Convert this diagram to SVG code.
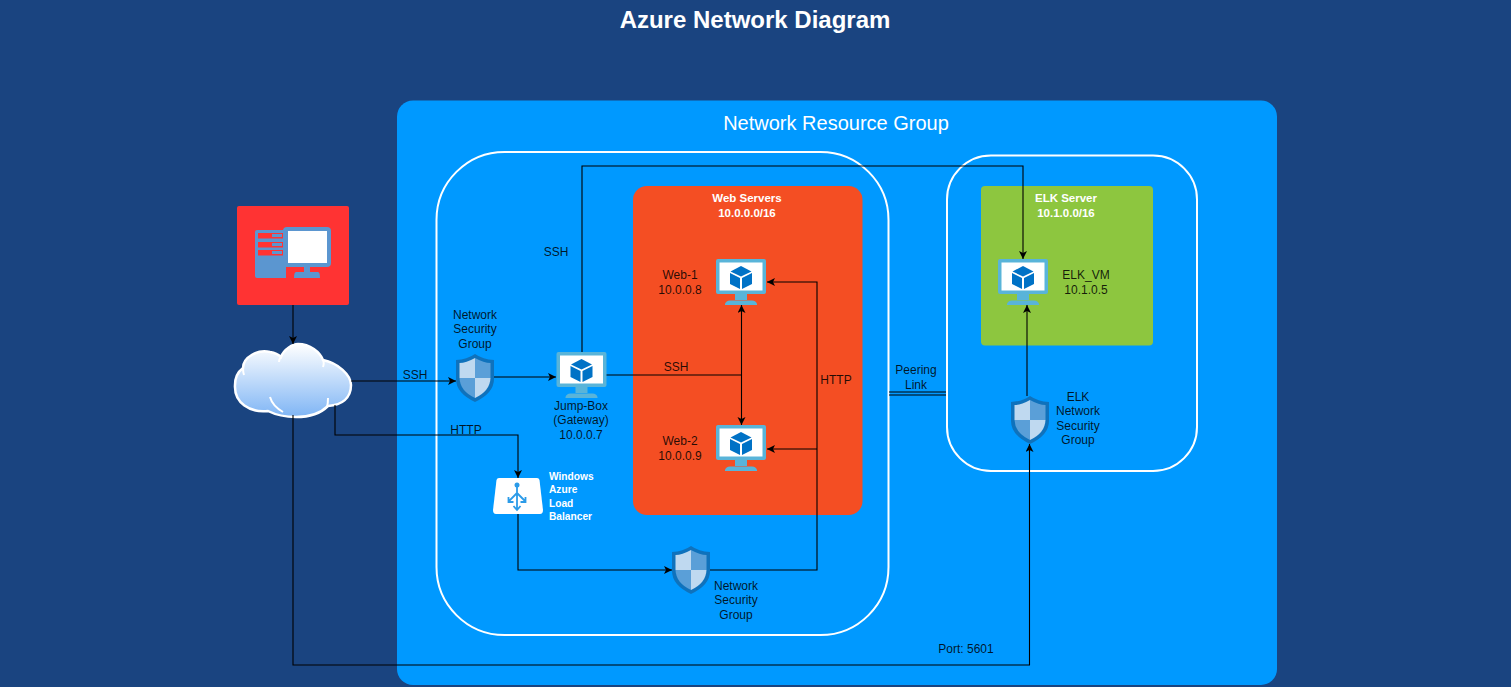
<svg xmlns="http://www.w3.org/2000/svg" width="1511" height="687" viewBox="0 0 1511 687">
<style>
text{font-family:"Liberation Sans",Arial,sans-serif;font-size:12px;fill:#000;fill-opacity:.85;text-anchor:middle}
.w{fill:#fff;fill-opacity:1;font-weight:bold;font-size:11.5px}
.s{font-size:10.2px}
.l{text-anchor:start}
.c{fill:none;stroke:#000;stroke-width:1.100}
.a{marker-end:url(#ah)}
.b{marker-start:url(#ahs);marker-end:url(#ah)}
.o{fill:none;stroke:#fff;stroke-width:2}
</style>
<defs>
<marker id="ah" markerUnits="userSpaceOnUse" markerWidth="10" markerHeight="10" refX="8" refY="4" orient="auto"><path d="M0 0L8 4L0 8L2 4Z" fill="#000"/></marker>
<marker id="ahs" markerUnits="userSpaceOnUse" markerWidth="10" markerHeight="10" refX="8" refY="4" orient="auto-start-reverse"><path d="M0 0L8 4L0 8L2 4Z" fill="#000"/></marker>
<linearGradient id="cg" x1="0" y1="0" x2="0" y2="1"><stop offset="0" stop-color="#fff"/><stop offset="1" stop-color="#7FB5F5"/></linearGradient>
<symbol id="vm" viewBox="0 0 50 47" width="50" height="47" overflow="visible">
<rect x="0" y="0" width="50" height="35" rx="2" fill="#59B4D9"/>
<rect x="3.500" y="3.500" width="43" height="28" fill="#fff"/>
<path d="M19 35H31V41H19Z" fill="#59B4D9"/>
<path d="M9 45Q10 41.500 14 41.500H36Q40 41.500 41 45V46H9Z" fill="#59B4D9"/>
<path d="M25 7L35.500 12.500L25 17.500L14.500 12.500Z" fill="#0072C6"/>
<path d="M14 14L24 19V30L14 25Z" fill="#0072C6"/>
<path d="M36 14L26 19V30L36 25Z" fill="#0072C6"/>
</symbol>
<symbol id="sh" viewBox="0 0 38 48" width="38" height="48" overflow="visible">
<path d="M19 0Q27 5.500 38 6V25Q38 39 19 48Q0 39 0 25V6Q11 5.500 19 0Z" fill="#0F72BC"/>
<path d="M19 4Q10 9 3.500 9V24H19Z" fill="#BFD9F0"/>
<path d="M19 4Q28 9 34.500 9V24H19Z" fill="#5A9FD8"/>
<path d="M3.500 24H19V44Q4 37 3.500 24Z" fill="#5A9FD8"/>
<path d="M34.500 24H19V44Q34 37 34.500 24Z" fill="#BFD9F0"/>
</symbol>
</defs>
<rect width="1511" height="687" fill="#1A4480"/>
<text x="755" y="28" style="font-size:24px;font-weight:bold;fill:#fff;fill-opacity:1">Azure Network Diagram</text>

<g id="resource-group"><rect x="397" y="100.500" width="880" height="584.500" rx="16" fill="#0099FF"/>
<text x="836" y="130" style="font-size:20px;fill:#fff;fill-opacity:1">Network Resource Group</text></g>
<g id="vnet-1"><rect class="o" x="436.500" y="152" width="452" height="483" rx="68"/></g>
<g id="vnet-2"><rect class="o" x="947" y="155.500" width="250" height="315.500" rx="44"/></g>
<g id="web-servers"><rect x="633" y="186" width="229.500" height="329" rx="14" fill="#F44E23"/>
<text class="w" x="747" y="202">Web Servers</text><text class="w" x="747" y="217">10.0.0.0/16</text></g>
<g id="elk-server"><rect x="981" y="186" width="172" height="159.500" rx="4" fill="#8DC63F"/>
<text class="w" x="1066" y="202">ELK Server</text><text class="w" x="1066" y="217">10.1.0.0/16</text></g>

<g id="workstation"><rect x="237" y="206" width="112" height="99" rx="2" fill="#FF3333"/>
<path d="M257 230H286V278H257Q255 278 255 276V232Q255 230 257 230Z" fill="#5B96D0"/>
<rect x="258" y="233" width="26" height="5.500" fill="#FF3333"/><rect x="258" y="242" width="26" height="5.500" fill="#FF3333"/><rect x="258" y="250" width="26" height="5.500" fill="#FF3333"/>
<rect x="272" y="234" width="10" height="3" fill="#5B96D0"/><rect x="272" y="243" width="10" height="3" fill="#5B96D0"/><rect x="272" y="251" width="10" height="3" fill="#5B96D0"/>
<rect x="283" y="227" width="48" height="40" rx="4" fill="#5B96D0"/><rect x="288" y="231" width="39" height="32" fill="#fff"/>
<path d="M304 267H310V272H318Q320 272 320 278H294Q294 272 296 272H304Z" fill="#5B96D0"/></g>

<g id="internet"><path d="M268 411C250 413 234 403 235 385C235 376 239 371 243 368C243 357 258 349 270 352C276 353 280 356 281 357C284 349 293 344 298 344C310 344 320 352 323 360C338 363 351 375 351 385C351 398 342 405 328 406C320 414 308 417 296 417C284 417 274 414 268 411Z" fill="url(#cg)" stroke="#fff" stroke-width="2.500"/>
<path d="M270 397C272 404 276 408 283 412M328 398C328 401 328 404 327 407M281 357C279 359 279 360 279 362M323 360C324 362 324 364 323 367M243 368C243 370 243 372 244 375" fill="none" stroke="#fff" stroke-width="2"/></g>

<g id="connectors">
<path class="c a" d="M293 305V344"/>
<path class="c a" d="M351 381H456"/>
<path class="c a" d="M494 377H556"/>
<path class="c a" d="M335 405V435H518V478"/>
<path class="c a" d="M582 352V166H1023V259"/>
<path class="c" d="M606 375H741"/>
<path class="c b" d="M741.500 305V425"/>
<path class="c a" d="M518 514V570H672"/>
<path class="c a" d="M710 570H817V282H767"/>
<path class="c a" d="M817 449H767"/>
<path class="c a" d="M293 415V665H1029.500V444"/>
<path class="c a" d="M1027 396V305"/>
<path class="c" d="M889 392H946M889 395H946"/>
</g>
<text x="415" y="379">SSH</text>
<text x="466" y="434">HTTP</text>
<text x="556" y="256">SSH</text>
<text x="676" y="371">SSH</text>
<text x="836" y="384">HTTP</text>
<text x="916" y="374">Peering</text><text x="916" y="389">Link</text>
<text x="966" y="653">Port: 5601</text>

<g id="nsg-1"><use href="#sh" x="456" y="354"/><text x="475" y="319">Network</text><text x="475" y="333">Security</text><text x="475" y="348">Group</text></g>
<g id="jump-box"><use href="#vm" x="556.500" y="352"/><text x="581" y="410">Jump-Box</text><text x="581" y="424">(Gateway)</text><text x="581" y="439">10.0.0.7</text></g>
<g id="web-1"><use href="#vm" x="716" y="259"/><text x="680" y="279">Web-1</text><text x="680" y="294">10.0.0.8</text></g>
<g id="web-2"><use href="#vm" x="716" y="425"/><text x="680" y="445">Web-2</text><text x="680" y="460">10.0.0.9</text></g>
<g id="elk-vm"><use href="#vm" x="998" y="259"/><text x="1086" y="279">ELK_VM</text><text x="1086" y="294">10.1.0.5</text></g>
<g id="load-balancer"><path d="M499 478H537Q539 478 539.500 480L543 510Q543 514 540 514H496Q493 514 493 510L496.500 480Q497 478 499 478Z" fill="#fff"/>
<path d="M517 485V509M517 493L508.500 501.500M517 493L525.500 501.500M508.500 497V502H513.500M525.500 497V502H520.500M513.500 506L517 510L520.500 506" fill="none" stroke="#2B9BE8" stroke-width="1.800"/><circle cx="517" cy="485" r="2.500" fill="#2B9BE8"/>
<text class="w l s" x="549" y="480">Windows</text><text class="w l s" x="549" y="493">Azure</text><text class="w l s" x="549" y="507">Load</text><text class="w l s" x="549" y="520">Balancer</text></g>
<g id="nsg-2"><use href="#sh" x="672" y="546"/><text x="736" y="590">Network</text><text x="736" y="604">Security</text><text x="736" y="619">Group</text></g>
<g id="nsg-3"><use href="#sh" x="1011" y="396"/><text x="1078" y="401">ELK</text><text x="1078" y="415">Network</text><text x="1078" y="430">Security</text><text x="1078" y="444">Group</text></g>
</svg>
